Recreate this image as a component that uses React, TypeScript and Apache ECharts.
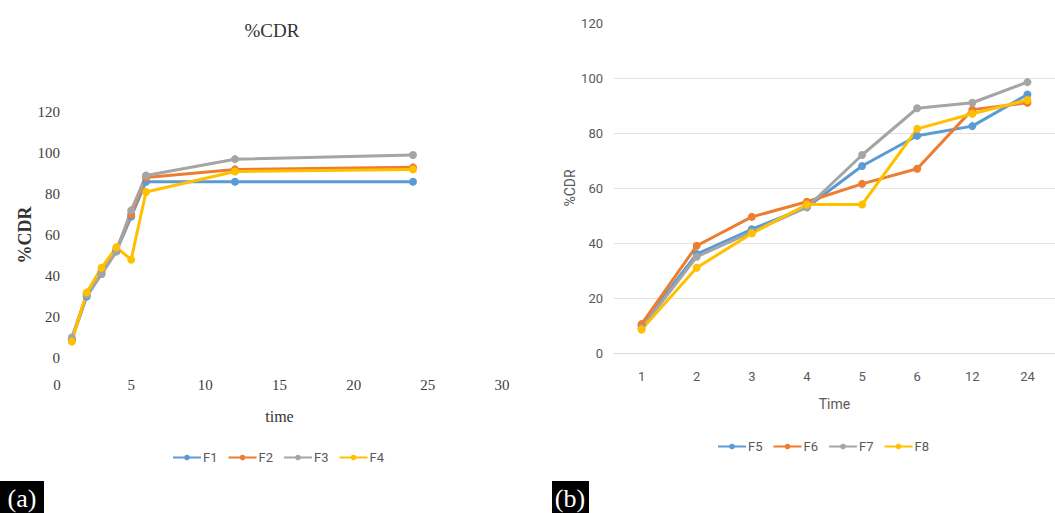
import React, { useEffect, useRef } from "react";
import * as echarts from "echarts";

// Panel (a): cumulative drug release vs. time (numeric time axis)
const timesA = [1, 2, 3, 4, 5, 6, 12, 24];
const f1 = [9, 30, 41, 52, 69, 86, 86, 86];
const f2 = [9, 31, 42, 53, 70, 88, 92, 93];
const f3 = [10, 31, 41, 52, 72, 89, 97, 99];
const f4 = [8, 32, 44, 54, 48, 81, 91, 92];

// Panel (b): cumulative drug release vs. time (categorical time axis)
const timesB = ["1", "2", "3", "4", "5", "6", "12", "24"];
const f5 = [10, 36, 45, 53, 68, 79, 82.5, 94];
const f6 = [10.5, 39, 49.5, 55, 61.5, 67, 88.5, 91];
const f7 = [9, 35, 44, 53, 72, 89, 91, 98.5];
const f8 = [8.5, 31, 43.5, 54, 54, 81.5, 87, 92];

const namesA = ["F1", "F2", "F3", "F4"];
const namesB = ["F5", "F6", "F7", "F8"];
const palette = ["#5B9BD5", "#ED7D31", "#A5A5A5", "#FFC000"];

const serif = "'Liberation Serif', 'Times New Roman', serif";
const sans = "'Liberation Sans Narrow', 'Roboto', 'Noto Sans', sans-serif";

function lineSeries(name: string, data: any[], idx: number, color: string) {
  return {
    name,
    type: "line",
    xAxisIndex: idx,
    yAxisIndex: idx,
    data,
    symbol: "circle",
    symbolSize: 8,
    color,
    lineStyle: { width: 3, color },
    itemStyle: { color },
  };
}

export default function App() {
  const ref = useRef<HTMLDivElement>(null);

  useEffect(() => {
    if (!ref.current) return;
    const chart = echarts.init(ref.current, undefined, { renderer: "svg" });

    const seriesA = [f1, f2, f3, f4].map((vals, i) =>
      lineSeries(namesA[i], vals.map((v, j) => [timesA[j], v]), 0, palette[i])
    );
    const seriesB = [f5, f6, f7, f8].map((vals, i) =>
      lineSeries(namesB[i], vals, 1, palette[i])
    );

    chart.setOption({
      animation: false,
      backgroundColor: "#ffffff",
      grid: [
        { left: 57, right: 553, top: 112, bottom: 155, containLabel: false },
        { left: 614, right: -11, top: 23, bottom: 160, containLabel: false },
      ],
      xAxis: [
        {
          gridIndex: 0,
          type: "value",
          min: 0,
          max: 30,
          interval: 5,
          name: "time",
          nameLocation: "middle",
          nameGap: 50,
          nameTextStyle: { fontFamily: serif, fontSize: 16, color: "#333" },
          axisLine: { show: false },
          axisTick: { show: false },
          splitLine: { show: false },
          axisLabel: { fontFamily: serif, fontSize: 15, color: "#404040", margin: 19 },
        },
        {
          gridIndex: 1,
          type: "category",
          data: timesB,
          boundaryGap: true,
          name: "Time",
          nameLocation: "middle",
          nameGap: 44,
          nameTextStyle: { fontFamily: sans, fontSize: 14, color: "#595959" },
          axisLine: { show: true, lineStyle: { color: "#dcdcdc", width: 1 } },
          axisTick: { show: false },
          axisLabel: { fontFamily: sans, fontSize: 13, color: "#595959", margin: 17 },
        },
      ],
      yAxis: [
        {
          gridIndex: 0,
          type: "value",
          min: 0,
          max: 120,
          interval: 20,
          name: "%CDR",
          nameLocation: "middle",
          nameGap: 22,
          nameTextStyle: { fontFamily: serif, fontSize: 18, fontWeight: "bold", color: "#333" },
          axisLine: { show: false },
          axisTick: { show: false },
          splitLine: { show: false },
          axisLabel: { fontFamily: serif, fontSize: 15, color: "#404040", margin: -3 },
        },
        {
          gridIndex: 1,
          type: "value",
          min: 0,
          max: 120,
          interval: 20,
          name: "%CDR",
          nameLocation: "middle",
          nameGap: 36,
          nameTextStyle: { fontFamily: sans, fontSize: 14, color: "#595959" },
          axisLine: { show: false },
          axisTick: { show: false },
          splitLine: {
            show: true,
            lineStyle: {
              color: ["#dcdcdc", "#e3e3e3", "#e3e3e3", "#e3e3e3", "#e3e3e3", "#e3e3e3", "rgba(0,0,0,0)"],
              width: 1,
            },
          },
          axisLabel: { fontFamily: sans, fontSize: 13, color: "#595959", margin: 11 },
        },
      ],
      legend: [
        {
          data: namesA,
          left: 172,
          top: 451,
          padding: 0,
          itemWidth: 28,
          itemHeight: 7,
          itemGap: 10,
          textStyle: { fontFamily: sans, fontSize: 13, color: "#595959", padding: [0, 0, 0, -3] },
        },
        {
          data: namesB,
          left: 717,
          top: 440,
          padding: 0,
          itemWidth: 28,
          itemHeight: 7,
          itemGap: 10,
          textStyle: { fontFamily: sans, fontSize: 13, color: "#595959", padding: [0, 0, 0, -3] },
        },
      ],
      graphic: [
        {
          type: "text",
          x: 272,
          y: 30,
          style: {
            text: "%CDR",
            fontFamily: serif,
            fontSize: 19,
            fill: "#333",
            align: "center",
            verticalAlign: "middle",
          },
        },
        { type: "rect", shape: { x: 0, y: 481, width: 44, height: 32 }, style: { fill: "#000" } },
        {
          type: "text",
          x: 22,
          y: 498,
          style: {
            text: "(a)",
            fontFamily: serif,
            fontSize: 26,
            fill: "#fff",
            align: "center",
            verticalAlign: "middle",
          },
        },
        { type: "rect", shape: { x: 552, y: 481, width: 37, height: 32 }, style: { fill: "#000" } },
        {
          type: "text",
          x: 570,
          y: 498,
          style: {
            text: "(b)",
            fontFamily: serif,
            fontSize: 26,
            fill: "#fff",
            align: "center",
            verticalAlign: "middle",
          },
        },
      ],
      series: [...seriesA, ...seriesB],
    });

    return () => chart.dispose();
  }, []);

  return (
    <div
      ref={ref}
      style={{ position: "fixed", left: 0, top: 0, width: 1055, height: 513, background: "#fff" }}
    />
  );
}
